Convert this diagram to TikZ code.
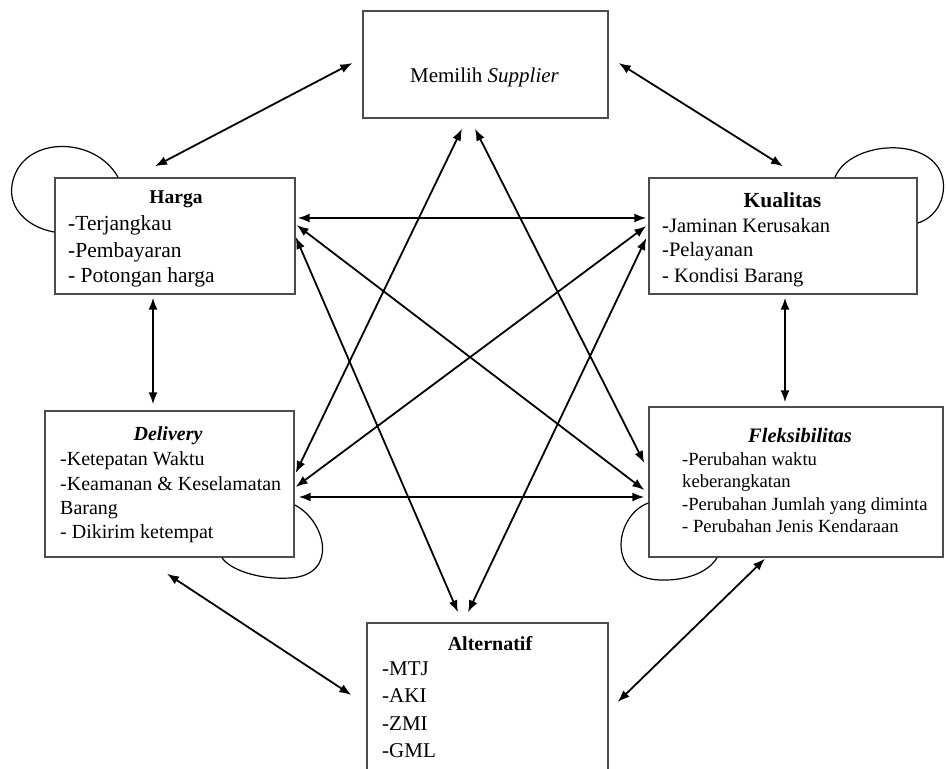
\documentclass[tikz,border=0pt]{standalone}
\usepackage{fontspec}
\setmainfont{Liberation Serif}
\usetikzlibrary{arrows.meta,calc}
\begin{document}
\begin{tikzpicture}[x=1pt,y=-1pt,
  box/.style={draw=black!70,line width=1.4pt,rectangle,inner sep=0pt},
  conn/.style={{Latex[length=12pt,width=9pt]}-{Latex[length=12pt,width=9pt]},line width=1.8pt},
  selfloop/.style={line width=1.2pt},
  ttl/.style={inner sep=0pt,anchor=base,font=\fontsize{#1}{#1}\selectfont\bfseries},
  itm/.style={inner sep=0pt,anchor=base west,font=\fontsize{#1}{#1}\selectfont}]
\useasboundingbox (0,0) rectangle (946,769);
\clip (0,0) rectangle (946,769);
\fill[white] (0,0) rectangle (946,769);

% boxes
\node[box,minimum width=245pt,minimum height=107pt] (sup) at (485.5,64.5) {};
\node[box,minimum width=240pt,minimum height=116pt] (har) at (175,236) {};
\node[box,minimum width=268pt,minimum height=116pt] (kua) at (783,236) {};
\node[box,minimum width=249pt,minimum height=146pt] (del) at (169.5,484) {};
\node[box,minimum width=294pt,minimum height=150pt] (fle) at (796,482) {};
\node[box,minimum width=241pt,minimum height=167pt] (alt) at (487.5,706.5) {};

% texts
\node[inner sep=0pt,anchor=base,font=\fontsize{21}{22}\selectfont] (supT) at (484.5,82) {Memilih \textit{Supplier}};

\node[ttl=19.5] (harT) at (176,203) {Harga};
\node[itm=21.5] (har1) at (68,230) {-Terjangkau};
\node[itm=21.5] (har2) at (68,257) {-Pembayaran};
\node[itm=21.5] (har3) at (68,282) {- Potongan harga};

\node[ttl=21.5] (kuaT) at (782.5,207) {Kualitas};
\node[itm=20.5] (kua1) at (662,232) {-Jaminan Kerusakan};
\node[itm=20.5] (kua2) at (662,256) {-Pelayanan};
\node[itm=20.5] (kua3) at (662,282) {- Kondisi Barang};

\node[ttl=20] (delT) at (168,440) {\itshape Delivery};
\node[itm=20] (del1) at (60,465) {-Ketepatan Waktu};
\node[itm=20] (del2) at (60,490) {-Keamanan \& Keselamatan};
\node[itm=20] (del3) at (60,514) {Barang};
\node[itm=20] (del4) at (60,538) {- Dikirim ketempat};

\node[ttl=20.5] (fleT) at (800,442) {\itshape Fleksibilitas};
\node[itm=18.6] (fle1) at (682,465) {-Perubahan waktu};
\node[itm=18.6] (fle2) at (682,487) {keberangkatan};
\node[itm=18.6] (fle3) at (682,510) {-Perubahan Jumlah yang diminta};
\node[itm=18.6] (fle4) at (682,532) {- Perubahan Jenis Kendaraan};

\node[ttl=20] (altT) at (490,650) {Alternatif};
\node[itm=21] (alt1) at (382,675) {-MTJ};
\node[itm=21] (alt2) at (382,702) {-AKI};
\node[itm=21] (alt3) at (382,730) {-ZMI};
\node[itm=21] (alt4) at (382,757) {-GML};

% outer connectors
\draw[conn] ($(sup.west)+(-10,-1.5)$) -- ($(har.north)+(-20,-11)$);
\draw[conn] ($(sup.east)+(10,-1.5)$) -- ($(kua.north)+(0,-11)$);
\draw[conn] ($(har.south)+(-22,3)$) -- ($(del.north)+(-16.5,-6)$);
\draw[conn] ($(kua.south)+(2,3)$) -- ($(fle.north)+(-11,-4)$);
\draw[conn] ($(del.south)+(-2.5,16)$) -- ($(alt.west)+(-15,-11.5)$);
\draw[conn] ($(fle.south)+(-31,1)$) -- ($(alt.east)+(9,-4.5)$);

% inner star
\draw[conn] ($(har.east)+(2,-18)$) -- ($(kua.west)+(-2,-18)$);
\draw[conn] ($(del.east)+(4,13)$) -- ($(fle.west)+(-4,15)$);
\draw[conn] ($(har.east)+(1,-11)$) -- ($(fle.west)+(-4,8)$);
\draw[conn] ($(kua.west)+(-2,-10)$) -- ($(del.east)+(1,3)$);
\draw[conn] ($(har.east)+(0,1)$) -- ($(alt.north)+(-29.5,-10)$);
\draw[conn] ($(kua.west)+(-2,2)$) -- ($(alt.north)+(-19.5,-10)$);
\draw[conn] ($(sup.south)+(-23.5,10)$) -- ($(del.east)+(1,-11)$);
\draw[conn] ($(sup.south)+(-10.5,10)$) -- ($(fle.west)+(-4,-19)$);

% self loops
\draw[selfloop] ($(har.north)+(-57,0)$) .. controls (95,135) and (20,135) .. (12,185)
  .. controls (8,210) and (30,228) .. ($(har.west)+(0,-4)$);
\draw[selfloop] ($(kua.north)+(52,0)$) .. controls (850,140) and (935,135) .. (943,180)
  .. controls (946,200) and (935,218) .. ($(kua.east)+(0,-13)$);
\draw[selfloop] ($(del.east)+(0,21)$) .. controls (325,520) and (340,575) .. (290,578)
  .. controls (260,580) and (230,570) .. ($(del.south)+(52.5,0)$);
\draw[selfloop] ($(fle.west)+(0,21)$) .. controls (615,515) and (605,578) .. (660,580)
  .. controls (690,581) and (710,570) .. ($(fle.south)+(-79,0)$);
\end{tikzpicture}
\end{document}
